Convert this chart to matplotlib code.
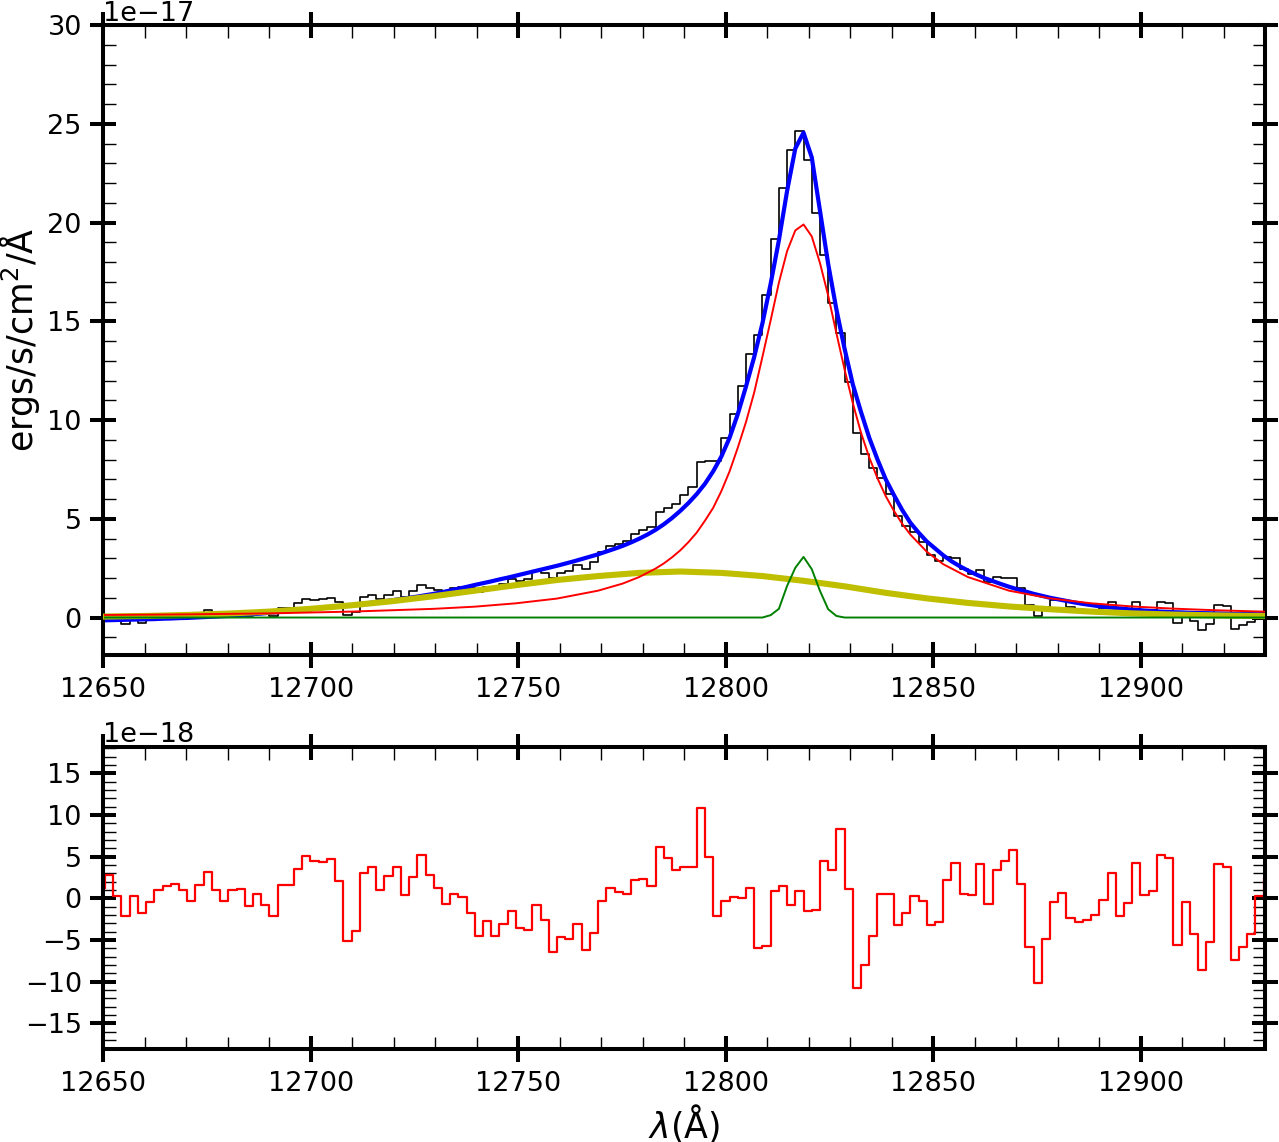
import numpy as np
import matplotlib
matplotlib.use("Agg")
import matplotlib.pyplot as plt
from matplotlib.ticker import MultipleLocator

# ---- wavelength grid (pixel grid of the spectrum) ----
wave_start = 12650.41
wave_step = 1.9806
n_pix = 143
wave = wave_start + wave_step * np.arange(n_pix)

# ---- observed flux (units of 1e-17) ----
flux = [-0.02, 0.15, -0.09, -0.32, -0.07, -0.27, -0.12, 0.04, 0.10, 0.15,
        0.08, -0.03, 0.18, 0.36, 0.16, 0.05, 0.21, 0.26, 0.08, 0.26,
        0.16, 0.06, 0.47, 0.50, 0.74, 0.93, 0.91, 0.94, 1.01, 0.79,
        0.12, 0.29, 1.04, 1.16, 0.93, 1.15, 1.32, 1.04, 1.32, 1.65,
        1.48, 1.41, 1.30, 1.51, 1.57, 1.48, 1.29, 1.56, 1.48, 1.72,
        1.97, 1.87, 1.94, 2.34, 2.26, 1.98, 2.27, 2.36, 2.66, 2.46,
        2.79, 3.31, 3.61, 3.71, 3.86, 4.21, 4.44, 4.59, 5.34, 5.53,
        5.74, 6.18, 6.63, 7.86, 7.90, 7.94, 9.07, 10.32, 11.71, 13.33,
        14.31, 16.33, 19.19, 21.75, 23.67, 24.64, 23.15, 20.46, 18.35, 15.94,
        14.43, 11.92, 9.33, 8.30, 7.55, 7.06, 6.26, 5.13, 4.63, 4.33,
        3.82, 3.18, 2.87, 3.07, 3.03, 2.44, 2.22, 2.42, 1.79, 2.04,
        2.01, 2.01, 1.50, 0.62, 0.09, 0.52, 0.88, 0.91, 0.53, 0.41,
        0.37, 0.37, 0.50, 0.79, 0.23, 0.35, 0.80, 0.38, 0.40, 0.81,
        0.76, -0.30, 0.20, -0.20, -0.64, -0.31, 0.62, 0.57, -0.56, -0.40,
        -0.25, 0.20, 0.40]

# ---- total model (blue), units of 1e-17 ----
model_total = [-0.14, -0.13, -0.12, -0.11, -0.10, -0.09, -0.08, -0.06, -0.05, -0.03,
               -0.02, 0.00, 0.02, 0.04, 0.06, 0.08, 0.11, 0.14, 0.17, 0.20,
               0.24, 0.27, 0.31, 0.34, 0.38, 0.42, 0.46, 0.50, 0.54, 0.58,
               0.63, 0.68, 0.73, 0.78, 0.83, 0.88, 0.94, 1.00, 1.06, 1.13,
               1.20, 1.28, 1.37, 1.46, 1.55, 1.65, 1.74, 1.83, 1.93, 2.02,
               2.12, 2.22, 2.32, 2.42, 2.52, 2.62, 2.73, 2.84, 2.96, 3.08,
               3.20, 3.34, 3.48, 3.63, 3.80, 3.99, 4.20, 4.44, 4.72, 5.04,
               5.40, 5.80, 6.25, 6.77, 7.40, 8.15, 9.10, 10.30, 11.70, 13.20,
               14.90, 16.90, 19.10, 21.60, 23.75, 24.55, 23.30, 20.60, 17.90, 15.60,
               13.60, 11.80, 10.40, 9.10, 8.00, 7.00, 6.20, 5.45, 4.80, 4.30,
               3.85, 3.50, 3.15, 2.85, 2.60, 2.38, 2.18, 2.00, 1.85, 1.70,
               1.56, 1.43, 1.32, 1.20, 1.10, 1.00, 0.92, 0.84, 0.76, 0.69,
               0.63, 0.57, 0.52, 0.48, 0.44, 0.40, 0.37, 0.34, 0.31, 0.29,
               0.27, 0.26, 0.24, 0.23, 0.22, 0.21, 0.20, 0.19, 0.18, 0.18,
               0.17, 0.17, 0.16]

# ---- Lorentzian component (red) ----
lor_idx = [0, 10, 20, 30, 40, 45, 50, 55, 60, 63,
           65, 67, 68, 69, 70, 71, 72, 73, 74, 75,
           76, 77, 78, 79, 80, 81, 82, 83, 84, 85,
           86, 87, 88, 89, 90, 91, 92, 93, 94, 95,
           96, 97, 98, 100, 102, 105, 110, 115, 120, 125,
           130, 135, 140, 142]
lor_val = [0.13, 0.16, 0.21, 0.30, 0.44, 0.55, 0.72, 0.96, 1.36, 1.72,
           2.05, 2.48, 2.74, 3.05, 3.40, 3.82, 4.30, 4.90, 5.55, 6.40,
           7.40, 8.60, 9.90, 11.40, 13.20, 15.05, 16.95, 18.55, 19.60, 19.90,
           19.30, 17.95, 16.30, 14.40, 12.55, 10.85, 9.35, 8.10, 7.05, 6.15,
           5.40, 4.75, 4.20, 3.33, 2.70, 2.05, 1.36, 0.97, 0.72, 0.56,
           0.45, 0.37, 0.31, 0.29]

# ---- broad Gaussian component (yellow) ----
broad_idx = [0, 5, 10, 15, 20, 25, 30, 35, 40, 45,
             50, 55, 60, 65, 70, 75, 80, 85, 90, 95,
             100, 105, 110, 115, 120, 125, 130, 135, 140, 142]
broad_val = [0.05, 0.08, 0.13, 0.20, 0.30, 0.44, 0.62, 0.83, 1.08, 1.36,
             1.64, 1.90, 2.10, 2.26, 2.33, 2.26, 2.10, 1.86, 1.58, 1.25,
             0.97, 0.74, 0.56, 0.42, 0.30, 0.21, 0.15, 0.11, 0.08, 0.07]

# ---- narrow Gaussian component (green) ----
narrow_idx = [0, 80, 81, 82, 83, 84, 85, 86, 87, 88, 89, 90, 142]
narrow_val = [0.0, 0.0, 0.12, 0.44, 1.60, 2.52, 3.07, 2.45, 1.35, 0.42, 0.08, 0.0, 0.0]

# ---- residuals (units of 1e-18) ----
resid = [1.2, 2.8, 0.32, -2.08, 0.32, -1.76, -0.4, 1.04, 1.48, 1.76,
         0.96, -0.28, 1.64, 3.2, 0.96, -0.28, 0.96, 1.16, -0.92, 0.56,
         -0.76, -2.08, 1.64, 1.64, 3.56, 5.12, 4.52, 4.4, 4.72, 2.08,
         -5.12, -3.88, 3.08, 3.8, 0.96, 2.72, 3.8, 0.4, 2.6, 5.24,
         2.8, 1.28, -0.66, 0.52, 0.2, -1.72, -4.48, -2.72, -4.48, -3.04,
         -1.48, -3.52, -3.76, -0.8, -2.56, -6.4, -4.6, -4.84, -3.04, -6.16,
         -4.12, -0.28, 1.28, 0.8, 0.56, 2.24, 2.36, 1.52, 6.2, 4.88,
         3.44, 3.76, 3.76, 10.88, 5.0, -2.08, -0.28, 0.2, 0.08, 1.28,
         -5.92, -5.68, 0.92, 1.52, -0.76, 0.92, -1.48, -1.36, 4.52, 3.44,
         8.32, 1.16, -10.72, -7.96, -4.48, 0.56, 0.56, -3.16, -1.72, 0.32,
         -0.28, -3.16, -2.8, 2.16, 4.28, 0.56, 0.44, 4.16, -0.64, 3.44,
         4.52, 5.84, 1.76, -5.8, -10.12, -4.84, -0.4, 0.68, -2.32, -2.8,
         -2.56, -1.96, -0.16, 3.08, -2.1, -0.52, 4.28, 0.44, 0.92, 5.16,
         4.88, -5.56, -0.4, -4.28, -8.56, -5.2, 4.16, 3.8, -7.44, -5.8,
         -4.24, 0.28, 2.4]

s17 = 1e-17
s18 = 1e-18

plt.rcParams["font.family"] = ["DejaVu Sans"]
plt.rcParams["xtick.labelsize"] = 19.5
plt.rcParams["ytick.labelsize"] = 19.5
plt.rcParams["axes.linewidth"] = 2.9

fig = plt.figure(figsize=(12.79, 11.42), dpi=100)
ax1 = fig.add_axes([0.0808, 0.4264, 0.9083, 0.5517])
ax2 = fig.add_axes([0.0808, 0.0814, 0.9083, 0.2648])

wave_arr = np.asarray(wave)
ax1.step(wave_arr, np.asarray(flux) * s17, where="pre", color="k", lw=1.2, zorder=1)
ax1.plot(wave_arr, np.asarray(model_total) * s17, color="b", lw=3.0, zorder=2)
ax1.plot(wave_arr[broad_idx], np.asarray(broad_val) * s17, color="y", lw=4.4, zorder=3)
ax1.plot(wave_arr[lor_idx], np.asarray(lor_val) * s17, color="r", lw=1.4, zorder=4)
ax1.plot(wave_arr[narrow_idx], np.asarray(narrow_val) * s17, color="g", lw=1.4, zorder=5)

ax2.step(wave_arr, np.asarray(resid) * s18, where="pre", color="r", lw=1.6)

ax1.set_xlim(12650, 12930)
ax2.set_xlim(12650, 12930)
ax1.set_ylim(-1.9e-17, 30e-17)
ax2.set_ylim(-18.1e-18, 18.2e-18)

ax1.ticklabel_format(axis="y", style="sci", scilimits=(-17, -17))
ax2.ticklabel_format(axis="y", style="sci", scilimits=(-18, -18))
ax1.ticklabel_format(axis="x", useOffset=False)
ax2.ticklabel_format(axis="x", useOffset=False)

for ax in (ax1, ax2):
    ax.xaxis.set_major_locator(MultipleLocator(50))
    ax.xaxis.set_minor_locator(MultipleLocator(10))
    ax.tick_params(which="major", direction="inout", length=19, width=2.9,
                   top=True, right=True, pad=6)
    ax.tick_params(which="minor", direction="in", length=9, width=1.0,
                   top=True, right=True)

ax1.yaxis.set_major_locator(MultipleLocator(5e-17))
ax1.yaxis.set_minor_locator(MultipleLocator(1e-17))
ax2.yaxis.set_major_locator(MultipleLocator(5e-18))
ax2.yaxis.set_minor_locator(MultipleLocator(1e-18))

ax1.set_ylabel("ergs/s/cm$^2$/Å", fontsize=25)
ax2.set_xlabel(r"$\lambda$(Å)", fontsize=25)

fig.savefig("out.png", dpi=100)
